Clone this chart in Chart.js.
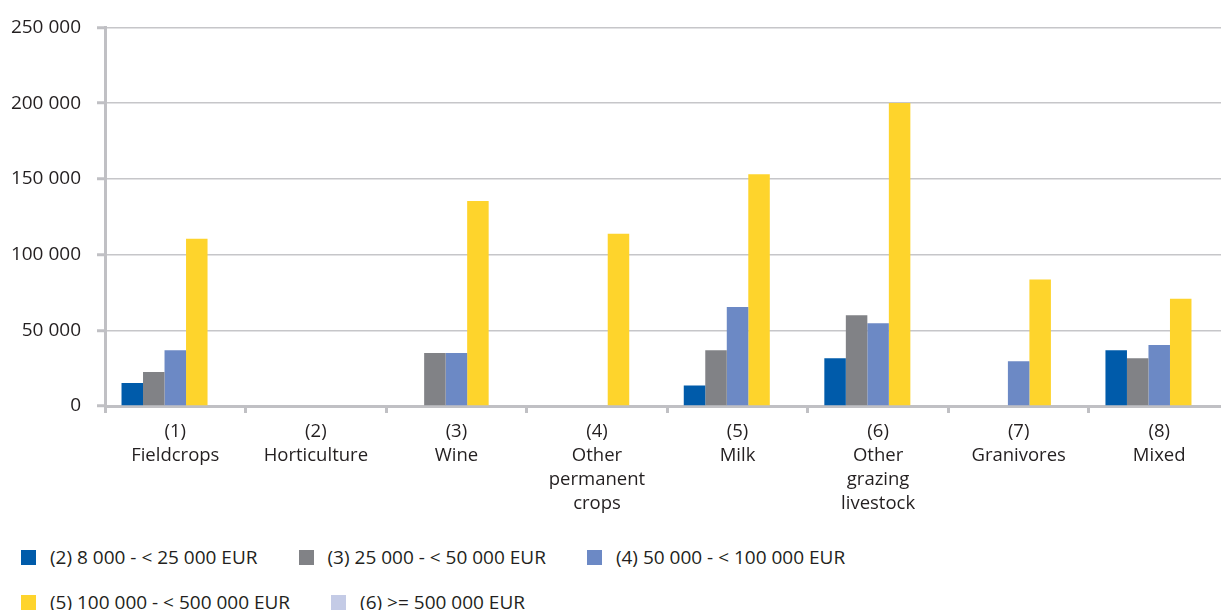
<!DOCTYPE html>
<html>
<head>
<meta charset="utf-8">
<script src="https://cdn.jsdelivr.net/npm/chart.js@4"></script>
<style>
  html, body { margin: 0; padding: 0; background: #fff; overflow: hidden; }
  #wrap { position: relative; width: 1232px; height: 610px; }
  #chartBox { position: absolute; left: 0; top: 0; width: 1232px; height: 526px; }
  #legend {
    position: absolute; left: 21px; top: 545px; width: 880px;
    display: flex; flex-wrap: wrap; row-gap: 21px;
    font-family: "Open Sans", sans-serif; font-size: 19px; color: #231f20;
  }
  .item { display: flex; align-items: center; height: 24px; margin-right: 41px; white-space: nowrap; }
  .swatch { width: 15px; height: 15px; margin-right: 14px; }
</style>
</head>
<body>
<div id="wrap">
  <div id="chartBox"><canvas id="chart"></canvas></div>
  <div id="legend"></div>
</div>
<script>
// Data
const categories = [
  ["(1)", "Fieldcrops"],
  ["(2)", "Horticulture"],
  ["(3)", "Wine"],
  ["(4)", "Other", "permanent", "crops"],
  ["(5)", "Milk"],
  ["(6)", "Other", "grazing", "livestock"],
  ["(7)", "Granivores"],
  ["(8)", "Mixed"]
];
const seriesNames = [
  "(2) 8 000 - < 25 000 EUR",
  "(3) 25 000 - < 50 000 EUR",
  "(4) 50 000 - < 100 000 EUR",
  "(5) 100 000 - < 500 000 EUR",
  "(6) >= 500 000 EUR"
];
const size2 = [15200, null, null, null, 13600, 31600, null, 36800];
const size3 = [22400, null, 35000, null, 36800, 60000, null, 31600];
const size4 = [36800, null, 35000, null, 65400, 54700, 29600, 40300];
const size5 = [110400, null, 135300, 113700, 153100, 200000, 83500, 70900];
const size6 = [null, null, null, null, null, null, null, null];
const yTicks = [0, 50000, 100000, 150000, 200000, 250000];

const colors = ["#005baa", "#818286", "#6c89c5", "#fed42c", "#c4cbe6"];
const axisGrey = "#c0c0c4";
const textColor = "#231f20";

Chart.defaults.font.family = "'Open Sans', sans-serif";
Chart.defaults.font.size = 19;
Chart.defaults.color = textColor;

function fmt(v) {
  return String(v).replace(/\B(?=(\d{3})+(?!\d))/g, " ");
}

const allSeries = [size2, size3, size4, size5, size6];

const chart = new Chart(document.getElementById("chart"), {
  type: "bar",
  data: {
    labels: categories,
    datasets: allSeries.map((d, i) => ({
      label: seriesNames[i],
      data: d,
      backgroundColor: colors[i],
      borderWidth: 0,
      categoryPercentage: 0.765,
      barPercentage: 1
    }))
  },
  options: {
    responsive: true,
    maintainAspectRatio: false,
    animation: false,
    events: [],
    layout: { padding: { top: 24, right: 2.5, left: 0, bottom: 0 } },
    plugins: { legend: { display: false }, tooltip: { enabled: false } },
    scales: {
      x: {
        afterFit(scale) { scale.height = 120; },
        border: { display: true, color: axisGrey, width: 3 },
        grid: {
          offset: true,
          drawOnChartArea: false,
          drawTicks: true,
          tickLength: 7,
          tickWidth: 3,
          tickColor: axisGrey
        },
        ticks: {
          maxRotation: 0,
          autoSkip: false,
          padding: 7,
          color: textColor,
          font: { size: 18.5, lineHeight: "24px" }
        }
      },
      y: {
        min: 0,
        max: 250000,
        afterFit(scale) { scale.width = 105; },
        afterBuildTicks(scale) { scale.ticks = yTicks.map(v => ({ value: v })); },
        border: { display: true, color: axisGrey, width: 3, dash: [] },
        grid: {
          color: "#c6c6c9",
          lineWidth: 1.5,
          borderDash: [9, 6],
          drawTicks: true,
          tickLength: 8,
          tickWidth: 3,
          tickColor: axisGrey,
          tickBorderDash: []
        },
        ticks: {
          padding: 16,
          color: textColor,
          font: { size: 19 },
          callback: v => fmt(v)
        }
      }
    }
  }
});

// Legend (HTML, from the chart's datasets)
const legendEl = document.getElementById("legend");
chart.data.datasets.forEach(ds => {
  const item = document.createElement("div");
  item.className = "item";
  const sw = document.createElement("span");
  sw.className = "swatch";
  sw.style.background = ds.backgroundColor;
  const txt = document.createElement("span");
  txt.textContent = ds.label;
  item.appendChild(sw);
  item.appendChild(txt);
  legendEl.appendChild(item);
});
</script>
</body>
</html>
